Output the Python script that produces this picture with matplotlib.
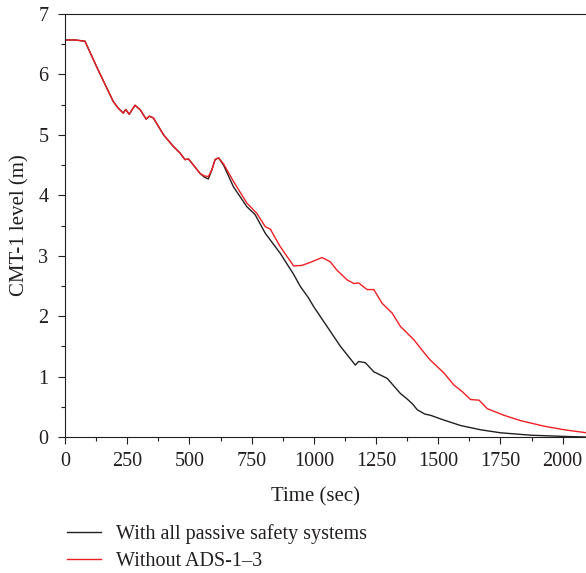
import matplotlib
matplotlib.use("Agg")
import matplotlib.pyplot as plt
from matplotlib.ticker import MultipleLocator

plt.rcParams["font.family"] = ["Liberation Serif", "DejaVu Serif"]
plt.rcParams["font.size"] = 15

# CMT-1 level (m) versus time (sec)
t_all = [0, 40, 80, 130, 194, 212, 234, 244, 258, 281, 301, 326, 339, 355, 396,
         435, 462, 482, 496, 520, 543, 560, 576, 590, 603, 617, 637, 677, 731,
         764, 805, 865, 919, 946, 979, 999, 1053, 1107, 1167, 1180, 1207, 1241,
         1295, 1348, 1375, 1396, 1416, 1446, 1469, 1509, 1590, 1670, 1751, 1872,
         2006, 2097]
level_all = [6.57, 6.57, 6.55, 6.10, 5.55, 5.45, 5.36, 5.42, 5.34, 5.49, 5.42,
             5.26, 5.31, 5.28, 5.00, 4.81, 4.70, 4.59, 4.60, 4.48, 4.36, 4.30,
             4.27, 4.42, 4.59, 4.62, 4.50, 4.14, 3.81, 3.68, 3.37, 3.04, 2.69,
             2.49, 2.30, 2.16, 1.83, 1.50, 1.19, 1.25, 1.23, 1.08, 0.97, 0.72,
             0.63, 0.55, 0.45, 0.38, 0.36, 0.30, 0.19, 0.12, 0.07, 0.03, 0.01,
             0.00]

t_no_ads = [0, 40, 80, 130, 194, 212, 234, 244, 258, 281, 301, 326, 339, 355,
            396, 435, 462, 482, 496, 520, 543, 560, 576, 590, 603, 617, 637,
            677, 731, 771, 805, 825, 865, 919, 952, 986, 1033, 1066, 1093, 1134,
            1161, 1180, 1214, 1241, 1275, 1315, 1348, 1402, 1456, 1469, 1523,
            1563, 1597, 1630, 1664, 1697, 1764, 1832, 1925, 2006, 2097]
level_no_ads = [6.57, 6.57, 6.55, 6.10, 5.55, 5.45, 5.36, 5.42, 5.34, 5.49,
                5.42, 5.26, 5.31, 5.28, 5.00, 4.81, 4.70, 4.59, 4.60, 4.48,
                4.36, 4.32, 4.31, 4.42, 4.59, 4.62, 4.52, 4.23, 3.87, 3.70,
                3.48, 3.44, 3.15, 2.83, 2.84, 2.89, 2.97, 2.90, 2.76, 2.60,
                2.54, 2.55, 2.44, 2.44, 2.21, 2.05, 1.83, 1.61, 1.33, 1.27,
                1.06, 0.86, 0.75, 0.62, 0.61, 0.47, 0.36, 0.27, 0.18, 0.12,
                0.07]

labels = ["With all passive safety systems", "Without ADS-1\u20133"]
colors = ["#231f20", "#ee2024"]
text_color = "#231f20"

fig = plt.figure(figsize=(5.86, 5.73), dpi=100)
ax = fig.add_axes([0.111, 0.2373, 0.889, 0.7383])

ax.plot(t_all, level_all, color=colors[0], lw=1.0, label=labels[0])
ax.plot(t_no_ads, level_no_ads, color=colors[1], lw=1.0, label=labels[1])

ax.set_xlim(0, 2094)
ax.set_ylim(0, 7)
ax.xaxis.set_major_locator(MultipleLocator(250))
ax.xaxis.set_minor_locator(MultipleLocator(125))
ax.yaxis.set_major_locator(MultipleLocator(1))
ax.yaxis.set_minor_locator(MultipleLocator(0.5))

ax.spines["right"].set_visible(False)
for s in ("left", "bottom", "top"):
    ax.spines[s].set_color(text_color)
    ax.spines[s].set_linewidth(0.8)
ax.tick_params(which="major", direction="out", length=5, width=0.8,
               color=text_color, labelcolor=text_color, labelsize=14.5)
ax.tick_params(which="minor", direction="out", length=3, width=0.8,
               color=text_color)
ax.tick_params(axis="x", which="major", pad=6)
ax.tick_params(axis="y", which="major", pad=7)

ax.set_xlabel("Time (sec)", fontsize=15, color=text_color, va="center")
ax.xaxis.set_label_coords(0.48, -0.142)
ax.set_ylabel("CMT-1 level (m)", fontsize=15, color=text_color, va="center")
ax.yaxis.set_label_coords(-0.087, 0.5)

fig.legend(loc="upper left", bbox_to_anchor=(67 / 586, 1 - 524 / 573),
           frameon=False, borderpad=0, borderaxespad=0, handlelength=1.7,
           handletextpad=0.75, labelspacing=0.4, fontsize=14.5,
           labelcolor=text_color)

fig.savefig("out.png", dpi=100)
